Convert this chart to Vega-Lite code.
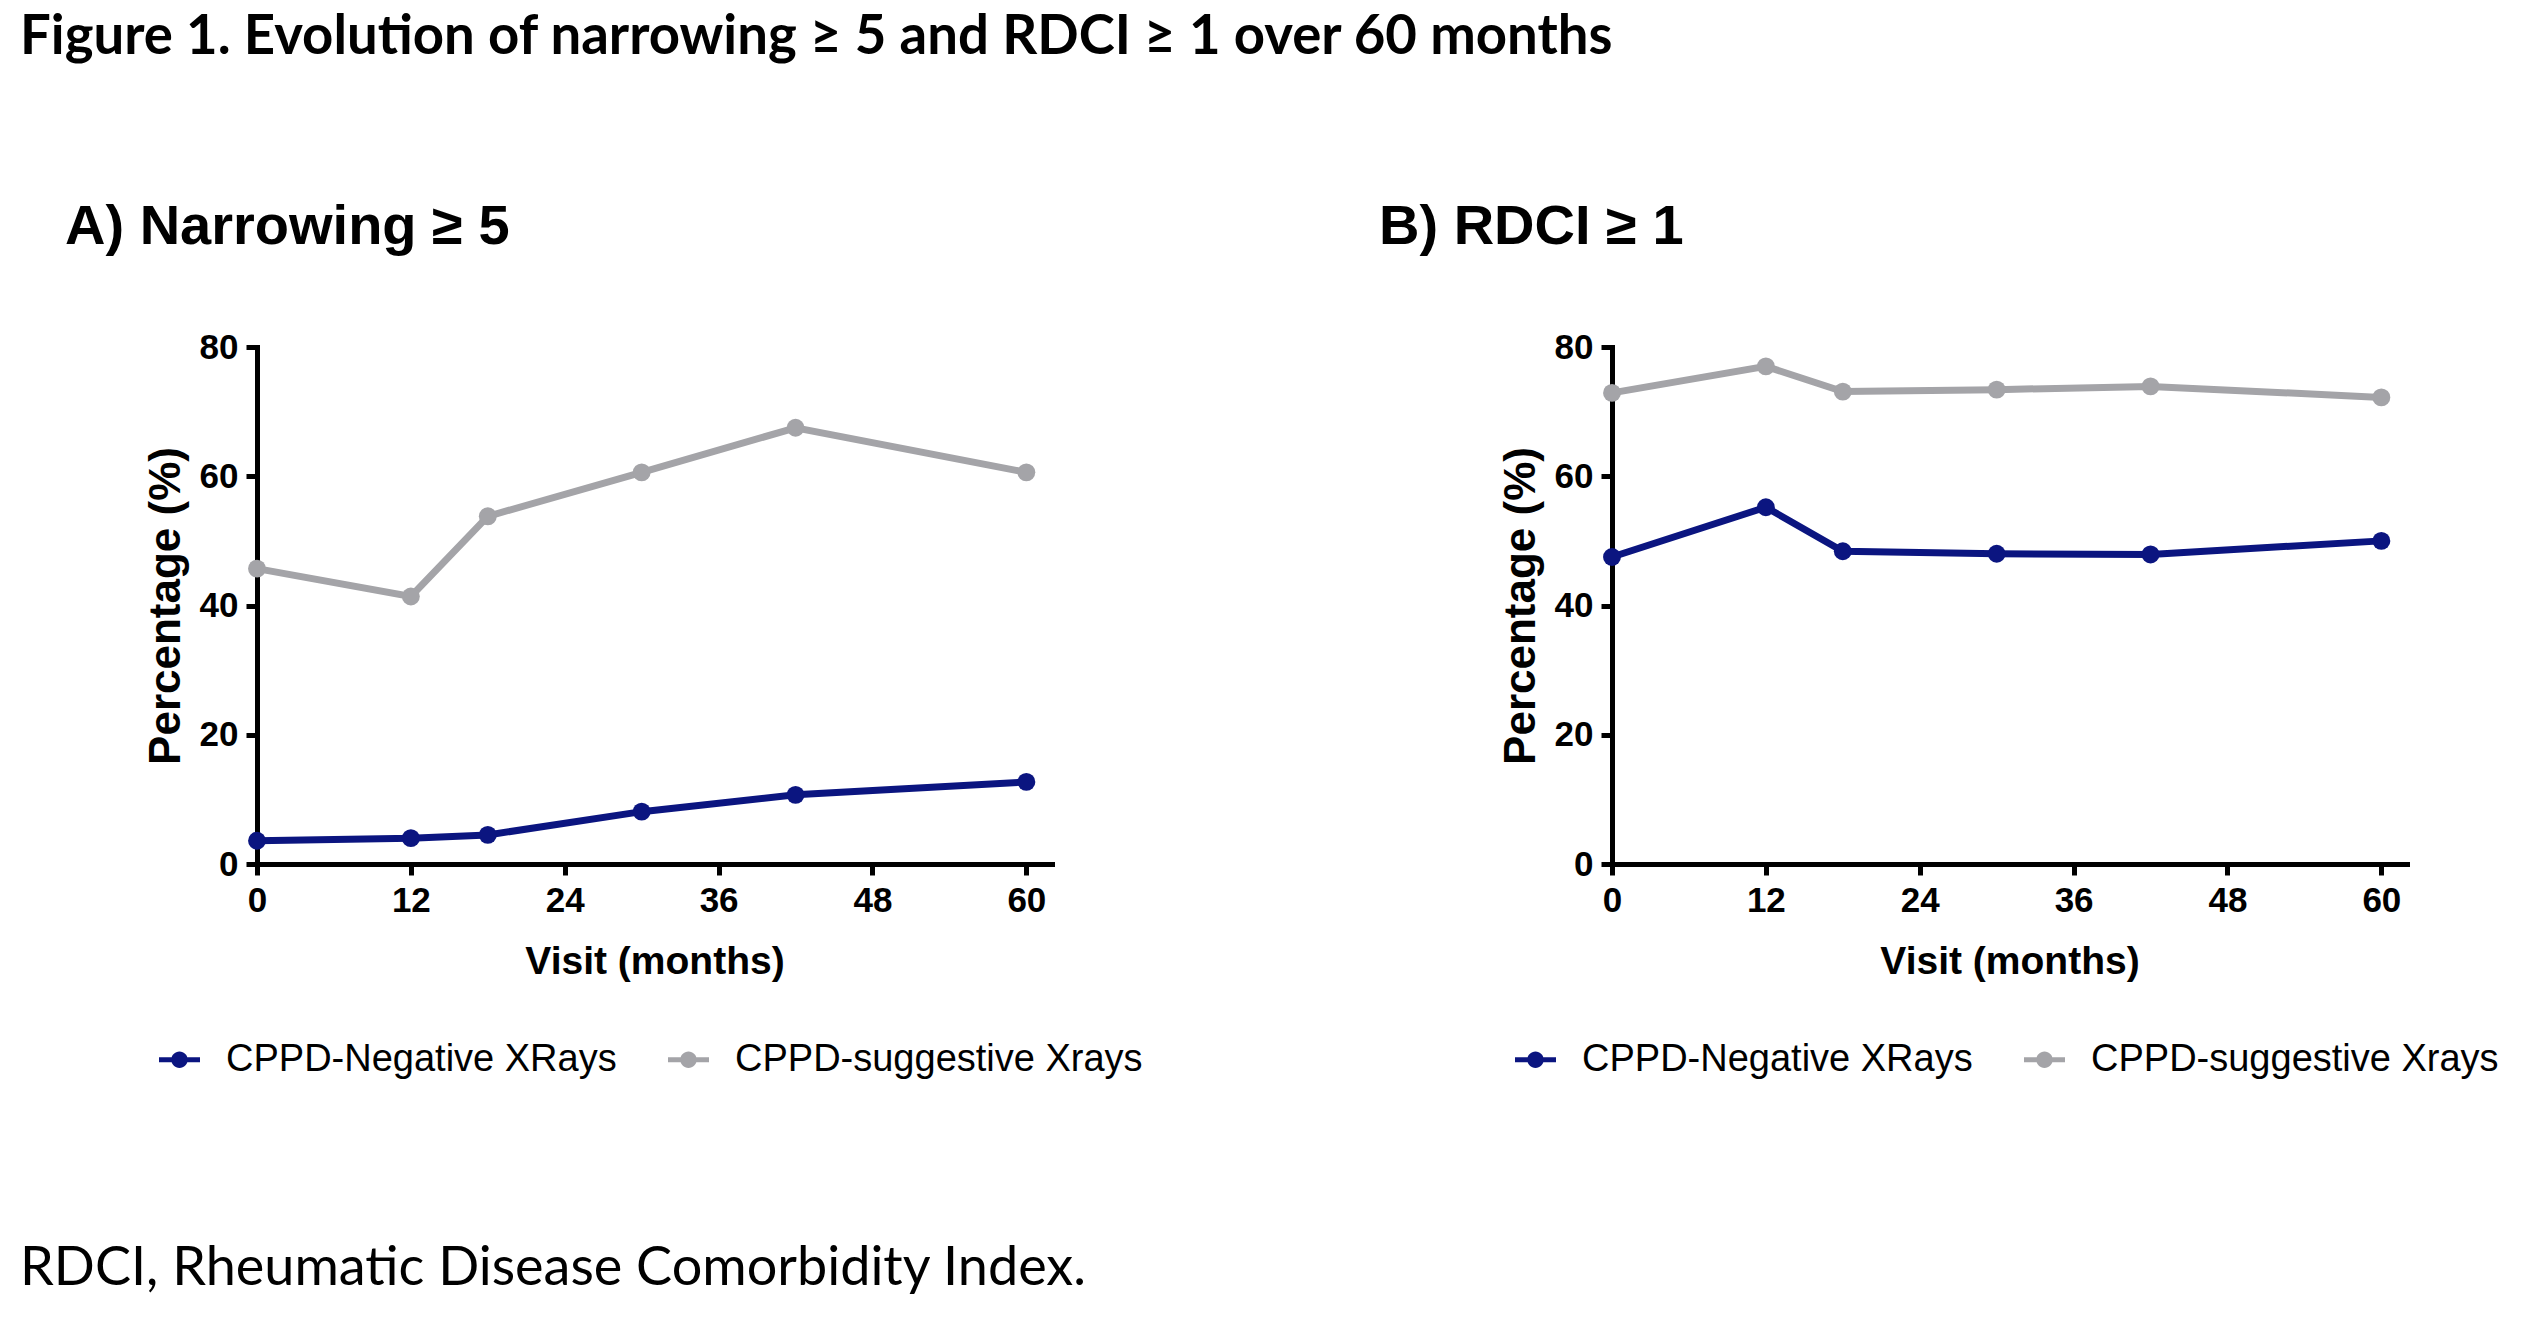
{
  "$schema": "https://vega.github.io/schema/vega-lite/v6.json",
  "background": "white",
  "padding": {"left": 20, "top": 9, "right": 5, "bottom": 5},
  "title": {
    "text": "Figure 1. Evolution of narrowing ≥ 5 and RDCI ≥ 1 over 60 months",
    "anchor": "start",
    "frame": "bounds",
    "font": "Lato",
    "fontSize": 54.5,
    "fontWeight": "bold",
    "color": "black",
    "baseline": "alphabetic",
    "offset": 91
  },
  "vconcat": [
    {
      "title": {
        "text": "RDCI, Rheumatic Disease Comorbidity Index.",
        "orient": "bottom",
        "anchor": "start",
        "frame": "bounds",
        "font": "Lato",
        "fontSize": 54,
        "fontWeight": "normal",
        "color": "black",
        "baseline": "alphabetic",
        "offset": 206,
        "dx": -45
      },
      "spacing": 560,
      "bounds": "flush",
      "resolve": {"scale": {"color": "independent"}, "legend": {"color": "independent"}},
      "hconcat": [
        {
          "width": 795,
          "height": 517,
          "title": {"text": "A) Narrowing ≥ 5", "anchor": "start", "frame": "group", "dx": -192, "offset": 74},
          "data": {"values": [
            {"month": 0, "pct": 3.6, "group": "CPPD-Negative XRays"},
            {"month": 12, "pct": 4.0, "group": "CPPD-Negative XRays"},
            {"month": 18, "pct": 4.5, "group": "CPPD-Negative XRays"},
            {"month": 30, "pct": 8.1, "group": "CPPD-Negative XRays"},
            {"month": 42, "pct": 10.7, "group": "CPPD-Negative XRays"},
            {"month": 60, "pct": 12.7, "group": "CPPD-Negative XRays"},
            {"month": 0, "pct": 45.7, "group": "CPPD-suggestive Xrays"},
            {"month": 12, "pct": 41.4, "group": "CPPD-suggestive Xrays"},
            {"month": 18, "pct": 53.8, "group": "CPPD-suggestive Xrays"},
            {"month": 30, "pct": 60.6, "group": "CPPD-suggestive Xrays"},
            {"month": 42, "pct": 67.5, "group": "CPPD-suggestive Xrays"},
            {"month": 60, "pct": 60.6, "group": "CPPD-suggestive Xrays"}
          ]},
          "mark": {"type": "line", "strokeWidth": 7, "point": {"filled": true, "size": 320}},
          "encoding": {
            "x": {"field": "month", "type": "quantitative", "scale": {"domain": [0, 62], "nice": false, "zero": false}, "axis": {"values": [0, 12, 24, 36, 48, 60], "title": "Visit (months)"}},
            "y": {"field": "pct", "type": "quantitative", "scale": {"domain": [0, 80], "nice": false}, "axis": {"values": [0, 20, 40, 60, 80], "title": "Percentage (%)"}},
            "color": {
              "field": "group", "type": "nominal",
              "scale": {"domain": ["CPPD-Negative XRays", "CPPD-suggestive Xrays"], "range": ["#0B1580", "#A4A4A8"]},
              "legend": {"orient": "none", "legendX": -98, "legendY": 692, "direction": "horizontal", "title": null,
                "symbolType": "M-1,-0.12H1V0.12H-1ZM0.4,0A0.4,0.4 0 1,1 -0.4,0A0.4,0.4 0 1,1 0.4,0Z",
                "symbolSize": 1681, "labelOffset": 26, "columnPadding": 51,
                "encode": {"symbols": {"update": {"fill": [{"test": "datum.value === 'CPPD-Negative XRays'", "value": "#0B1580"}, {"value": "#A4A4A8"}], "strokeWidth": {"value": 0}, "opacity": {"value": 1}}}}}
            }
          }
        },
        {
          "width": 795,
          "height": 517,
          "title": {"text": "B) RDCI ≥ 1", "anchor": "start", "frame": "group", "dx": -233, "offset": 74},
          "data": {"values": [
            {"month": 0, "pct": 47.5, "group": "CPPD-Negative XRays"},
            {"month": 12, "pct": 55.2, "group": "CPPD-Negative XRays"},
            {"month": 18, "pct": 48.4, "group": "CPPD-Negative XRays"},
            {"month": 30, "pct": 48.0, "group": "CPPD-Negative XRays"},
            {"month": 42, "pct": 47.9, "group": "CPPD-Negative XRays"},
            {"month": 60, "pct": 50.0, "group": "CPPD-Negative XRays"},
            {"month": 0, "pct": 72.9, "group": "CPPD-suggestive Xrays"},
            {"month": 12, "pct": 77.0, "group": "CPPD-suggestive Xrays"},
            {"month": 18, "pct": 73.1, "group": "CPPD-suggestive Xrays"},
            {"month": 30, "pct": 73.4, "group": "CPPD-suggestive Xrays"},
            {"month": 42, "pct": 73.9, "group": "CPPD-suggestive Xrays"},
            {"month": 60, "pct": 72.2, "group": "CPPD-suggestive Xrays"}
          ]},
          "mark": {"type": "line", "strokeWidth": 7, "point": {"filled": true, "size": 320}},
          "encoding": {
            "x": {"field": "month", "type": "quantitative", "scale": {"domain": [0, 62], "nice": false, "zero": false}, "axis": {"values": [0, 12, 24, 36, 48, 60], "title": "Visit (months)"}},
            "y": {"field": "pct", "type": "quantitative", "scale": {"domain": [0, 80], "nice": false}, "axis": {"values": [0, 20, 40, 60, 80], "title": "Percentage (%)"}},
            "color": {
              "field": "group", "type": "nominal",
              "scale": {"domain": ["CPPD-Negative XRays", "CPPD-suggestive Xrays"], "range": ["#0B1580", "#A4A4A8"]},
              "legend": {"orient": "none", "legendX": -97, "legendY": 692, "direction": "horizontal", "title": null,
                "symbolType": "M-1,-0.12H1V0.12H-1ZM0.4,0A0.4,0.4 0 1,1 -0.4,0A0.4,0.4 0 1,1 0.4,0Z",
                "symbolSize": 1681, "labelOffset": 26, "columnPadding": 51,
                "encode": {"symbols": {"update": {"fill": [{"test": "datum.value === 'CPPD-Negative XRays'", "value": "#0B1580"}, {"value": "#A4A4A8"}], "strokeWidth": {"value": 0}, "opacity": {"value": 1}}}}}
            }
          }
        }
      ]
    }
  ],
  "config": {
    "view": {"stroke": null},
    "title": {"font": "Liberation Sans", "fontSize": 56, "fontWeight": "bold", "color": "black", "baseline": "alphabetic"},
    "axis": {
      "grid": false,
      "domainColor": "black", "domainWidth": 5, "domainCap": "square",
      "tickColor": "black", "tickWidth": 5, "tickSize": 11,
      "labelFont": "Liberation Sans", "labelFontWeight": "bold", "labelFontSize": 35, "labelColor": "black", "labelPadding": 8,
      "titleFont": "Liberation Sans", "titleFontWeight": "bold", "titleColor": "black"
    },
    "axisX": {"titlePadding": 24, "titleFontSize": 39, "labelFlush": false},
    "axisY": {"titlePadding": 11, "titleFontSize": 44},
    "legend": {"labelFont": "Liberation Sans", "labelFontSize": 38, "labelColor": "black", "labelLimit": 800}
  }
}
